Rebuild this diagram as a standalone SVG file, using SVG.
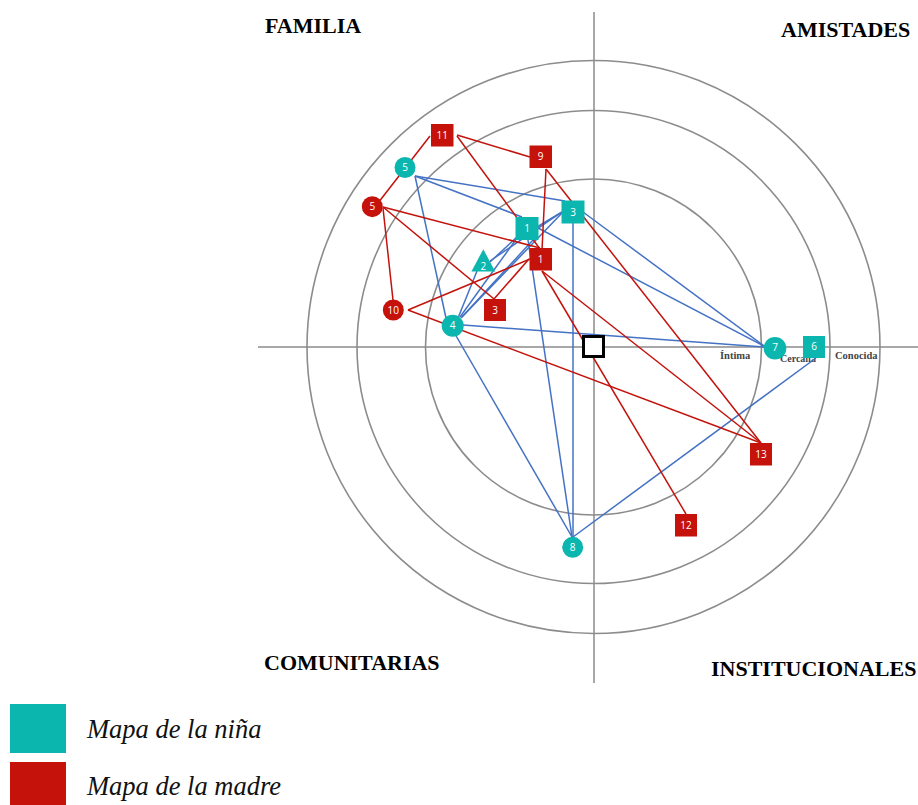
<svg xmlns="http://www.w3.org/2000/svg" width="918" height="805" viewBox="0 0 918 805">
<style>
.ring{fill:none;stroke:#8c8c8c;stroke-width:1.6}
.axis{stroke:#a8a8a8;stroke-width:2}
.title{font-family:"Liberation Serif","Times New Roman",serif;font-weight:bold;font-size:22px;fill:#000}
.ring-lbl{font-family:"Liberation Serif","Times New Roman",serif;font-weight:bold;font-size:10.5px;fill:#444}
.leg{font-family:"Liberation Serif","Times New Roman",serif;font-style:italic;font-size:26.5px;fill:#111}
.teal{fill:#0bb6ae}
.red{fill:#c5120b}
.nl{font-family:"Open Sans","Liberation Sans",sans-serif;font-size:10px;fill:#fff;text-anchor:middle}
.b{stroke:#4472c4;stroke-width:1.5;fill:none}
.r{stroke:#c3120c;stroke-width:1.5;fill:none}
</style>

<g id="background">
<line class="axis" x1="594" y1="12" x2="594" y2="683"/>
<line class="axis" x1="258" y1="347" x2="918" y2="347"/>
<circle class="ring" cx="593.5" cy="347" r="168"/>
<circle class="ring" cx="593.5" cy="347" r="236.5"/>
<circle class="ring" cx="593.5" cy="347" r="286.5"/>
<text class="title" x="265" y="33">FAMILIA</text>
<text class="title" x="781" y="37">AMISTADES</text>
<text class="title" x="264" y="670">COMUNITARIAS</text>
<text class="title" x="711" y="676">INSTITUCIONALES</text>
<text class="ring-lbl" x="720" y="358.5">Íntima</text>
<text class="ring-lbl" x="780" y="362" style="font-size:10px">Cercana</text>
<text class="ring-lbl" x="835" y="358.5">Conocida</text>
</g>

<g id="connectors">
<!-- blue: mapa de la niña -->
<line class="b" x1="415" y1="176" x2="565" y2="201"/>
<line class="b" x1="415" y1="176" x2="522" y2="217"/>
<line class="b" x1="415" y1="176" x2="446" y2="318"/>
<line class="b" x1="537" y1="227" x2="562" y2="212"/>
<line class="b" x1="538" y1="228" x2="764" y2="346"/>
<line class="b" x1="583" y1="212" x2="764" y2="346"/>
<line class="b" x1="463" y1="325" x2="764" y2="347"/>
<line class="b" x1="528" y1="240" x2="572" y2="537"/>
<line class="b" x1="573" y1="222" x2="573" y2="537"/>
<line class="b" x1="455" y1="334" x2="572" y2="537"/>
<line class="b" x1="573" y1="537" x2="816" y2="358"/>
<line class="b" x1="458" y1="318" x2="477" y2="271"/>
<line class="b" x1="460" y1="317" x2="517" y2="238"/>
<line class="b" x1="461" y1="318" x2="533" y2="240"/>
<line class="b" x1="462" y1="317" x2="562" y2="213"/>
<line class="b" x1="490" y1="262" x2="518" y2="236"/>
<line class="b" x1="490" y1="261" x2="562" y2="212"/>
<!-- red: mapa de la madre -->
<line class="r" x1="430" y1="136" x2="378" y2="203"/>
<line class="r" x1="457" y1="135" x2="530" y2="157"/>
<line class="r" x1="457" y1="136" x2="540" y2="249"/>
<line class="r" x1="546" y1="169" x2="542" y2="250"/>
<line class="r" x1="546" y1="169" x2="761" y2="443"/>
<line class="r" x1="383" y1="207" x2="540" y2="248"/>
<line class="r" x1="383" y1="207" x2="494" y2="299"/>
<line class="r" x1="383" y1="208" x2="393" y2="300"/>
<line class="r" x1="408" y1="310" x2="530" y2="259"/>
<line class="r" x1="408" y1="310" x2="761" y2="443"/>
<line class="r" x1="494" y1="299" x2="529" y2="259"/>
<line class="r" x1="542" y1="271" x2="761" y2="443"/>
<line class="r" x1="542" y1="271" x2="686" y2="514"/>
</g>

<g id="ego">
<rect x="583.5" y="336.5" width="20" height="20" fill="#fff" stroke="#000" stroke-width="3"/>
</g>

<g id="nina-5"><circle class="teal" cx="405" cy="167.5" r="10.5"/><text class="nl" x="405" y="171">5</text></g>
<g id="nina-1"><rect class="teal" x="515.5" y="217" width="23" height="23"/><text class="nl" x="527" y="232">1</text></g>
<g id="nina-3"><rect class="teal" x="561.5" y="200.5" width="23" height="23"/><text class="nl" x="573" y="215.5">3</text></g>
<g id="nina-2"><polygon class="teal" points="483.3,249.3 495.2,271.5 471.4,271.5"/><text class="nl" x="483.3" y="269.5">2</text></g>
<g id="nina-4"><circle class="teal" cx="452.7" cy="325.7" r="11"/><text class="nl" x="452.7" y="329.2">4</text></g>
<g id="nina-7"><circle class="teal" cx="775" cy="348.3" r="11.3"/><text class="nl" x="775" y="351">7</text></g>
<g id="nina-6"><rect class="teal" x="803" y="336" width="22" height="22"/><text class="nl" x="814" y="349.8">6</text></g>
<g id="nina-8"><circle class="teal" cx="572.7" cy="547.3" r="10.5"/><text class="nl" x="572.7" y="550.8">8</text></g>

<g id="madre-11"><rect class="red" x="431" y="124" width="22.5" height="22.5"/><text class="nl" x="442.3" y="138.5">11</text></g>
<g id="madre-9"><rect class="red" x="529.5" y="145.5" width="22.5" height="22.5"/><text class="nl" x="540.7" y="160.2">9</text></g>
<g id="madre-5"><circle class="red" cx="372.3" cy="206.7" r="10.5"/><text class="nl" x="372.3" y="210.2">5</text></g>
<g id="madre-1"><rect class="red" x="529.5" y="248" width="22.5" height="22.5"/><text class="nl" x="540.7" y="262.7">1</text></g>
<g id="madre-10"><circle class="red" cx="393.3" cy="310" r="10.5"/><text class="nl" x="393.3" y="313.5">10</text></g>
<g id="madre-3"><rect class="red" x="484" y="299" width="22" height="22"/><text class="nl" x="495" y="313.5">3</text></g>
<g id="madre-13"><rect class="red" x="750" y="443" width="22" height="22.5"/><text class="nl" x="761" y="457.7">13</text></g>
<g id="madre-12"><rect class="red" x="675" y="514" width="22" height="22.5"/><text class="nl" x="686" y="528.7">12</text></g>

<g id="legend">
<rect class="teal" x="10" y="704" width="56" height="49"/>
<rect class="red" x="10" y="762" width="56" height="43"/>
<text class="leg" x="87" y="738">Mapa de la niña</text>
<text class="leg" x="87" y="795">Mapa de la madre</text>
</g>
</svg>
